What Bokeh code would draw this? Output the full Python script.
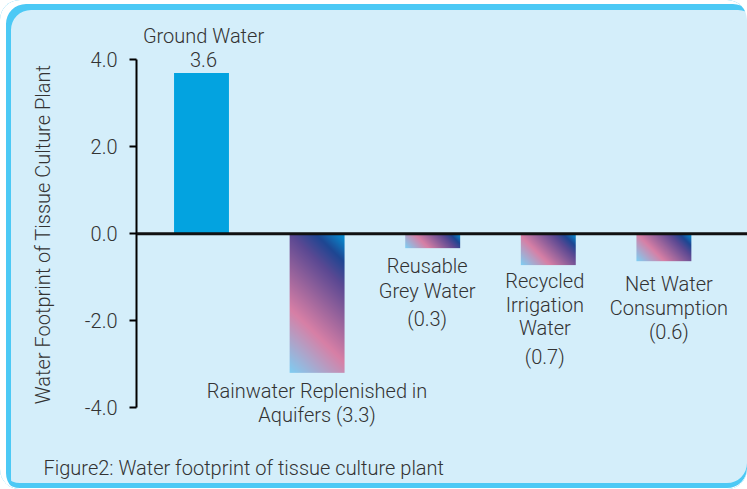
import numpy as np
from bokeh.plotting import figure
from bokeh.models import (ColumnDataSource, Span, Title, FixedTicker,
                          PrintfTickFormatter, Range1d)
from bokeh.embed import file_html
from bokeh.resources import INLINE
from bokeh.core.properties import value

# ---------------- data ----------------
categories = ["Ground Water", "Rainwater Replenished in Aquifers", "Reusable Grey Water",
              "Recycled Irrigation Water", "Net Water Consumption"]
values = [3.7, -3.2, -0.33, -0.72, -0.63]
label_lines = [
    ["Ground Water", "3.6"],
    ["Rainwater Replenished in", "Aquifers (3.3)"],
    ["Reusable", "Grey Water", "(0.3)"],
    ["Recycled", "Irrigation", "Water", "(0.7)"],
    ["Net Water", "Consumption", "(0.6)"],
]
y_ticks = [-4, -2, 0, 2, 4]
axis_title = "Water Footprint of Tissue Culture Plant"
caption = "Figure2: Water footprint of tissue culture plant"

# ---------------- styling ----------------
FONT = "Roboto Light"
FS = "20px"
TXT = "#333333"
BAR_W = 0.475
solid_colors = ["#03a3e0", None, None, None, None]
# label line offsets (px, downward) from the bar end, and horizontal nudges
line_offsets = [[-37.5, -13.5], [18, 42], [18, 42.5, 70.5],
                [16, 39.5, 62.5, 91.5], [22.5, 46.5, 71]]
x_nudges = [2, 0, -5.5, -3.5, 5]

grad_pos = [0.0, 0.33, 0.72, 0.85, 1.0]
grad_col = ["#80cdf2", "#d880a6", "#5b4993", "#1f4692", "#0596d9"]

def hex2rgb(h):
    h = h.lstrip("#")
    return [int(h[i:i + 2], 16) for i in (0, 2, 4)]

def gradient_image(w_px, h_px):
    cols = max(int(round(w_px)), 2)
    rows = max(int(round(h_px)), 2)
    c = np.arange(cols)[None, :]
    r = np.arange(rows)[:, None]
    t = (c + r) / float(cols - 1 + rows - 1)
    rgb = np.array([hex2rgb(h) for h in grad_col], dtype=float)
    img = np.zeros((rows, cols), dtype=np.uint32)
    view = img.view(dtype=np.uint8).reshape((rows, cols, 4))
    for k in range(3):
        view[:, :, k] = np.interp(t, grad_pos, rgb[:, k]).astype(np.uint8)
    view[:, :, 3] = 255
    return img

W, H = 747, 489
p = figure(width=W, height=H, output_backend="svg", toolbar_location=None,
           x_range=Range1d(-0.5623, 4.7232), y_range=Range1d(-5.1254, 5.0932),
           x_axis_location=None, min_border_left=136, min_border_right=0,
           min_border_top=12, min_border_bottom=33)
p.border_fill_color = None
p.background_fill_color = None
p.outline_line_color = None
p.grid.visible = False
p.styles = {
    "background-color": "#d4eefa",
    "border-radius": "20px",
    "box-shadow": ("inset 6px 4px 0 0 #ffffff, inset 0 -1px 0 0 #ffffff, "
                   "inset 11px 10px 0 0 #4cc9f5, inset 0 -6px 0 0 #4cc9f5"),
}

xs = list(range(len(categories)))
px_x = 115.6
px_y = 43.45
for i, v in enumerate(values):
    if solid_colors[i]:
        p.vbar(x=[xs[i]], top=[v], bottom=[0], width=BAR_W, fill_color=solid_colors[i],
               line_color=None)
    else:
        img = gradient_image(BAR_W * px_x, abs(v) * px_y)
        p.image_rgba(image=[img], x=[xs[i] - BAR_W / 2], y=[min(0, v)], dw=[BAR_W], dh=[abs(v)])

p.add_layout(Span(location=0, dimension="width", line_color="#111111", line_width=3))

tx, ty, tt, tox, toy = [], [], [], [], []
for i, lines in enumerate(label_lines):
    for j, ln in enumerate(lines):
        tx.append(xs[i]); ty.append(values[i]); tt.append(ln)
        tox.append(x_nudges[i]); toy.append(line_offsets[i][j])
src = ColumnDataSource(dict(x=tx, y=ty, text=tt, xo=tox, yo=toy))
p.text(x="x", y="y", text="text", x_offset="xo", y_offset="yo", source=src,
       text_font=value(FONT), text_font_size=FS, text_color=TXT,
       text_align="center", text_baseline="alphabetic")

ax = p.yaxis[0]
ax.ticker = FixedTicker(ticks=y_ticks)
ax.formatter = PrintfTickFormatter(format="%.1f")
ax.bounds = (-4, 4)
ax.axis_label = axis_title
ax.axis_label_text_font = FONT
ax.axis_label_text_font_size = FS
ax.axis_label_text_font_style = "normal"
ax.axis_label_text_color = TXT
ax.axis_label_standoff = 27
ax.major_label_text_font = FONT
ax.major_label_text_font_size = FS
ax.major_label_text_color = TXT
ax.major_label_standoff = 12
ax.axis_line_color = "black"
ax.axis_line_width = 2
ax.major_tick_line_color = "black"
ax.major_tick_line_width = 2
ax.major_tick_out = 7
ax.major_tick_in = 0
ax.minor_tick_line_color = None

p.add_layout(Title(text=caption, align="left", offset=-93, text_font=FONT,
                   text_font_size=FS, text_font_style="normal", text_color=TXT,
                   standoff=-6), "below")

open("out.html", "w").write(file_html(p, INLINE))
